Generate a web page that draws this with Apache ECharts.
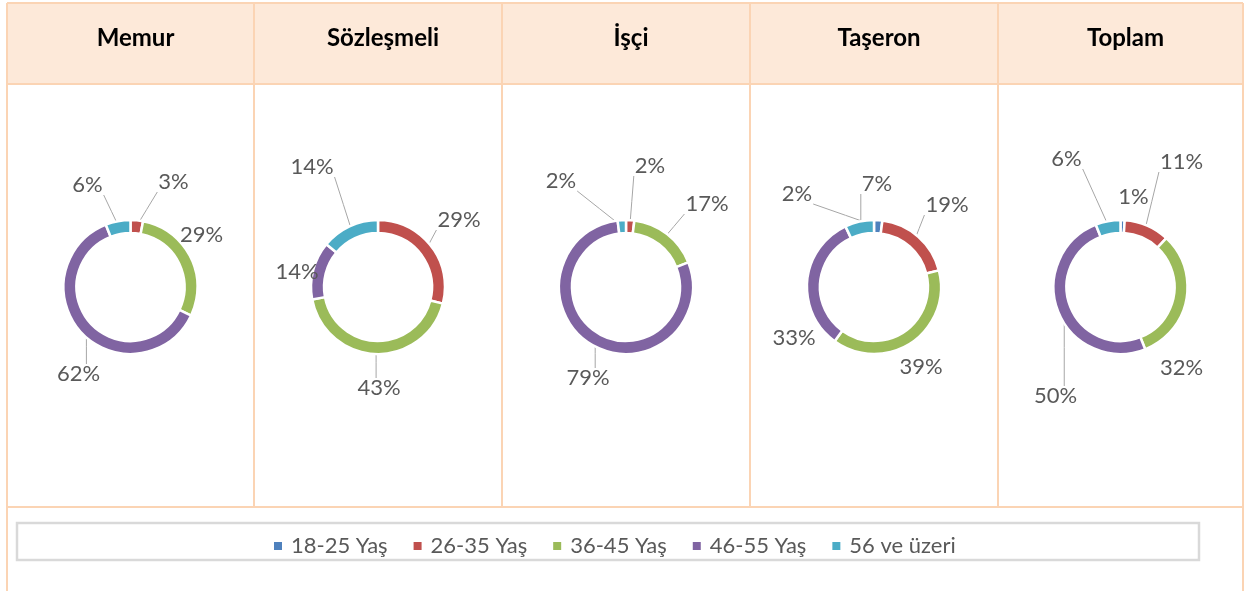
<!DOCTYPE html>
<html>
<head>
<meta charset="utf-8">
<title>Yaş dağılımı</title>
<script src="https://cdn.jsdelivr.net/npm/echarts@6/dist/echarts.min.js"></script>
<style>
  html, body { margin: 0; padding: 0; background: #fff; }
  #main { width: 1245px; height: 591px; }
</style>
</head>
<body>
<div id="main"></div>
<script>
// yaş grupları (legend sırası)
var ageGroups = ['18-25 Yaş', '26-35 Yaş', '36-45 Yaş', '46-55 Yaş', '56 ve üzeri'];
var groupColors = ['#4F81BD', '#C0504D', '#9BBB59', '#8064A2', '#4BACC6'];

// sütun başlıkları
var columns = ['Memur', 'Sözleşmeli', 'İşçi', 'Taşeron', 'Toplam'];

// yüzdeler, sıra: 18-25, 26-35, 36-45, 46-55, 56+
var memur      = [0, 3, 29, 62, 6];
var sozlesmeli = [0, 29, 43, 14, 14];
var isci       = [0, 2, 17, 79, 2];
var taseron    = [2, 19, 39, 33, 7];
var toplam     = [1, 11, 32, 50, 6];
var allValues = [memur, sozlesmeli, isci, taseron, toplam];

// etiket yerleri (halka merkezine göre kaydırma, Excel "best fit" gibi)
var labelSpots = [
  [null, [43, -105], [71, -52], [-52, 87], [-43, -102]],
  [null, [81, -67], [1, 101], [-81, -15], [-66, -120]],
  [null, [24, -121], [81, -83], [-38, 91], [-65, -106]],
  [[-77, -93], [73, -82], [47, 80], [-80, 51], [3, -103]],
  [[13, -90], [61, -125], [61, 81], [-65, 109], [-54, -128]]
];

// tablo ölçüleri
var colEdges = [7, 254, 502, 750, 998, 1243];
var tableTop = 3, headerBottom = 84, rowBottom = 507, pageBottom = 591;
var donutY = 287, rIn = 54, rOut = 67;
var lineColor = '#FBD4B4';
var fontFam = 'Lato, "Open Sans", sans-serif';

var chart = echarts.init(document.getElementById('main'));

var graphics = [];
graphics.push({
  type: 'rect', silent: true, z: -10,
  shape: { x: colEdges[0], y: tableTop, width: colEdges[5] - colEdges[0], height: headerBottom - tableTop },
  style: { fill: '#FDE9D9' }
});
function hline(y, x1, x2) {
  graphics.push({ type: 'line', silent: true, z: -5, shape: { x1: x1, y1: y, x2: x2, y2: y }, style: { stroke: lineColor, lineWidth: 2 } });
}
function vline(x, y1, y2) {
  graphics.push({ type: 'line', silent: true, z: -5, shape: { x1: x, y1: y1, x2: x, y2: y2 }, style: { stroke: lineColor, lineWidth: 2 } });
}
hline(tableTop, colEdges[0], colEdges[5]);
hline(headerBottom, colEdges[0], colEdges[5]);
hline(rowBottom, colEdges[0], colEdges[5]);
vline(colEdges[0], tableTop, pageBottom);
vline(colEdges[5], tableTop, pageBottom);
for (var i = 1; i < 5; i++) vline(colEdges[i], tableTop, rowBottom);

// legend kutusu
graphics.push({
  type: 'rect', silent: true, z: -5,
  shape: { x: 17, y: 523, width: 1182, height: 37 },
  style: { fill: '#fff', stroke: '#D9D9D9', lineWidth: 2.5 }
});

// dilim açıları (saat 12'den saat yönünde, derece)
function sliceAngles(vals) {
  var total = 0, acc = 0, out = [];
  vals.forEach(function (v) { total += v; });
  vals.forEach(function (v) {
    out.push([acc / total * 360, (acc + v) / total * 360]);
    acc += v;
  });
  return out;
}
function polar(cx, cy, r, deg) {
  var a = deg * Math.PI / 180;
  return [cx + r * Math.sin(a), cy - r * Math.cos(a)];
}
function rectDist(p, rc) {
  var dx = Math.max(rc.x - p[0], 0, p[0] - (rc.x + rc.width));
  var dy = Math.max(rc.y - p[1], 0, p[1] - (rc.y + rc.height));
  return Math.sqrt(dx * dx + dy * dy);
}
function nearestOnRect(p, rc) {
  return [Math.min(Math.max(p[0], rc.x), rc.x + rc.width), Math.min(Math.max(p[1], rc.y), rc.y + rc.height)];
}

var titles = [];
var series = [];
var groupIndexOf = [];   // süzülmüş veri sırası -> yaş grubu
var centers = [];
for (var c = 0; c < columns.length; c++) {
  var cx = (colEdges[c] + colEdges[c + 1]) / 2;
  centers.push([cx, donutY]);
  titles.push({
    text: columns[c],
    left: cx, top: 21, textAlign: 'center',
    textStyle: { fontFamily: fontFam, fontSize: 24, fontWeight: 'bold', color: '#000' }
  });

  var data = [], idx = [];
  for (var g = 0; g < ageGroups.length; g++) {
    var v = allValues[c][g];
    if (v === 0) continue;
    data.push({ name: ageGroups[g], value: v, itemStyle: { color: groupColors[g] } });
    idx.push(g);
  }
  groupIndexOf.push(idx);

  (function (col) {
    var angles = sliceAngles(allValues[col]);
    series.push({
      type: 'pie',
      name: columns[col],
      center: centers[col],
      radius: [rIn, rOut],
      startAngle: 90,
      clockwise: true,
      avoidLabelOverlap: false,
      itemStyle: { borderColor: '#fff', borderWidth: 2.5 },
      label: {
        show: true,
        formatter: '{c}%',
        fontFamily: fontFam,
        fontSize: 22,
        color: '#595959',
        overflow: 'none'
      },
      labelLine: {
        show: true,
        showAbove: true,
        length: 10,
        length2: 8,
        lineStyle: { color: '#A6A6A6', width: 1 }
      },
      labelLayout: function (params) {
        var g = groupIndexOf[col][params.dataIndex];
        var spot = labelSpots[col][g];
        var ctr = centers[col];
        var w = params.labelRect.width, h = params.labelRect.height;
        var lx = ctr[0] + spot[0], ly = ctr[1] + spot[1];
        var rc = { x: lx - w / 2 - 1, y: ly - h / 2 + 1, width: w + 2, height: h - 2 };
        var ang = angles[g];
        // etiket dilime çok yakınsa kılavuz çizgi yok
        var minD = Infinity;
        for (var s = 0; s <= 20; s++) {
          var a = ang[0] + (ang[1] - ang[0]) * s / 20;
          minD = Math.min(minD, rectDist(polar(ctr[0], ctr[1], rOut, a), rc));
        }
        var start = polar(ctr[0], ctr[1], (rIn + rOut) / 2, (ang[0] + ang[1]) / 2);
        var end = minD < 14 ? start : nearestOnRect(start, rc);
        return {
          x: lx, y: ly, align: 'center', verticalAlign: 'middle',
          labelLinePoints: [start, [(start[0] + end[0]) / 2, (start[1] + end[1]) / 2], end]
        };
      },
      emphasis: { disabled: true },
      data: data
    });
  })(c);
}

chart.setOption({
  animation: false,
  title: titles,
  legend: {
    data: ageGroups,
    left: 267,
    top: 530,
    icon: 'rect',
    itemWidth: 10,
    itemHeight: 10,
    itemGap: 24,
    textStyle: { fontFamily: fontFam, fontSize: 22, color: '#595959', padding: [0, 0, 0, 3] }
  },
  graphic: graphics,
  series: series
});
</script>
</body>
</html>
